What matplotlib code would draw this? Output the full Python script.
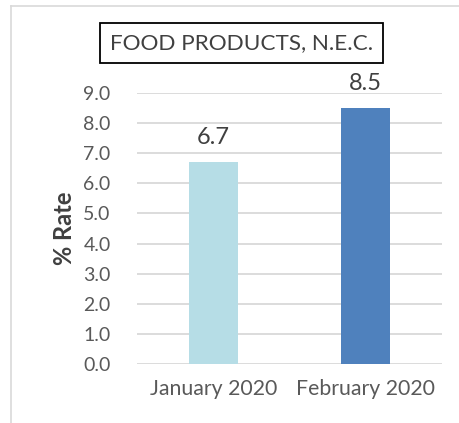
import matplotlib.pyplot as plt
from matplotlib.patches import Rectangle
from matplotlib.lines import Line2D

months = ['January 2020', 'February 2020']
rates = [6.7, 8.5]
bar_colors = ['#B6DDE6', '#4F81BD']
y_ticks = [0, 1, 2, 3, 4, 5, 6, 7, 8, 9]

plt.rcParams['font.family'] = ['Lato', 'DejaVu Sans']

W, H = 459, 423
fig = plt.figure(figsize=(W / 100, H / 100), dpi=100)

# plot area in pixel terms
left, right, top, bottom = 137, 442, 93, 364
ax = fig.add_axes([left / W, (H - bottom) / H, (right - left) / W, (bottom - top) / H])

x = range(len(months))
bars = ax.bar(x, rates, width=0.32, color=bar_colors, zorder=3)
for xi, v in zip(x, rates):
    ax.annotate('%.1f' % v, (xi, v), xytext=(0, 10), textcoords='offset points',
                ha='center', va='bottom', fontsize=17, color='#404040')

ax.set_xlim(-0.5, 1.5)
ax.set_ylim(0, 9)
ax.set_yticks(y_ticks)
ax.set_yticklabels(['%.1f' % t for t in y_ticks])
ax.set_xticks(list(x))
ax.set_xticklabels(months)
ax.tick_params(axis='y', length=0, pad=19, labelsize=14, labelcolor='#595959')
ax.tick_params(axis='x', length=0, pad=11, labelsize=15.3, labelcolor='#595959')
ax.grid(axis='y', color='#D9D9D9', linewidth=1.3, zorder=0)
for s in ax.spines.values():
    s.set_visible(False)
ax.set_ylabel('% Rate', fontsize=17, fontweight='bold', color='#404040')
ax.yaxis.set_label_coords(-0.2, 0.5)

# outer chart border (continues off the right and bottom edges)
fig.add_artist(Line2D([11 / W, 1], [1 - 6 / H, 1 - 6 / H], color='#D9D9D9', linewidth=1.2))
fig.add_artist(Line2D([11 / W, 11 / W], [0, 1 - 6 / H], color='#D9D9D9', linewidth=1.2))

# boxed title
fig.add_artist(Rectangle((100 / W, 1 - 63 / H), 283 / W, 40 / H, fill=False,
                         edgecolor='black', linewidth=1.3, transform=fig.transFigure))
fig.text(241.5 / W, 1 - 43 / H, 'FOOD PRODUCTS, N.E.C.', ha='center', va='center',
         fontsize=16.2, color='#404040')

fig.savefig('out.png', dpi=100)
